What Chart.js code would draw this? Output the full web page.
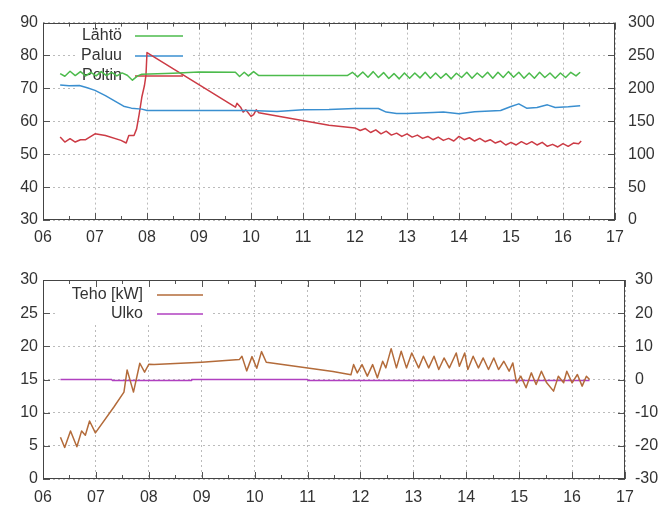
<!DOCTYPE html>
<html>
<head>
<meta charset="utf-8">
<script src="https://cdn.jsdelivr.net/npm/chart.js@4.4.0/dist/chart.umd.min.js"></script>
<style>
body { margin: 0; background: #fff; }
#yla { position: absolute; left: 0; top: 0; }
#ala { position: absolute; left: 0; top: 255px; }
</style>
</head>
<body>
<canvas id="yla" width="659" height="250"></canvas>
<canvas id="ala" width="659" height="250"></canvas>
<script>
// x-akselin tikit (tunnit)
var xTikit = ['06','07','08','09','10','11','12','13','14','15','16','17'];

// Lähtö (vasen akseli, C)
var lahtoAika = [6.33,6.42,6.52,6.62,6.72,6.82,6.92,7.02,7.12,7.22,7.32,7.42,7.52,7.62,7.72,7.82,7.9,8.5,9.0,9.7,9.78,9.87,9.95,10.05,10.15,10.22,11.85,
  11.95,12.05,12.15,12.25,12.35,12.45,12.55,12.65,12.75,12.85,12.95,13.05,13.15,13.25,13.35,13.45,13.55,13.65,13.75,13.85,13.95,
  14.05,14.15,14.25,14.35,14.45,14.55,14.65,14.75,14.85,14.95,15.05,15.15,15.25,15.35,15.45,15.55,15.65,15.75,15.85,15.95,
  16.05,16.15,16.25,16.33];
var lahtoArvo = [74.5,73.7,75.2,73.9,75.1,73.8,74.9,73.8,75.1,73.9,74.9,73.8,74.7,74.0,72.5,73.8,74.3,74.6,75.0,74.9,73.6,74.9,73.8,75.1,73.9,73.9,73.9,
  74.9,73.5,75.0,73.4,75.1,73.3,74.8,73.0,74.5,72.9,74.7,73.1,74.7,73.2,74.9,73.1,74.7,73.1,74.5,72.9,74.6,
  73.3,74.9,73.1,74.7,73.3,74.9,73.1,74.9,73.3,75.1,73.4,74.9,73.1,74.7,73.1,74.9,73.3,74.7,73.1,74.7,
  73.3,74.9,73.8,74.9];

// Paluu (vasen akseli)
var paluuAika = [6.33,6.5,6.7,6.85,7.0,7.2,7.4,7.55,7.7,7.9,8.0,10.0,10.5,11.0,11.5,12.0,12.45,12.6,12.8,13.0,13.5,13.7,14.0,14.3,14.8,15.0,15.15,15.3,15.5,15.7,15.85,16.1,16.33];
var paluuArvo = [71.0,70.8,70.9,70.2,69.4,67.8,66.0,64.6,64.0,63.7,63.3,63.3,63.0,63.5,63.6,63.9,63.9,62.8,62.4,62.4,62.7,62.8,62.3,62.9,63.3,64.5,65.3,64.0,64.2,65.0,64.2,64.4,64.7];

// Poltin (oikea akseli)
var poltinAika = [6.33,6.42,6.52,6.62,6.72,6.82,7.0,7.2,7.5,7.6,7.65,7.75,7.8,7.85,7.9,7.95,7.98,8.0,9.7,9.73,9.8,9.85,9.9,10.0,10.05,10.1,10.15,11.5,
  12.0,12.1,12.2,12.3,12.4,12.5,12.6,12.7,12.8,12.9,13.0,13.1,13.2,13.3,13.4,13.5,13.6,13.7,13.8,13.9,14.0,14.1,14.2,14.3,14.4,14.5,
  14.6,14.7,14.8,14.9,15.0,15.1,15.2,15.3,15.4,15.5,15.6,15.7,15.8,15.9,16.0,16.1,16.2,16.3,16.35];
var poltinArvo = [126,118.5,123.5,118.5,122,122,131,128.5,121,117,128.5,128.5,138.5,161,186.5,204,220,254.5,171.5,177.5,171.5,164,167.5,157.5,160,167.5,163,144,
  140,136,139,133,137,131,135,129,132,127,131,126,129,124,127,122,126,121,124,120,127,122,125,120,124,119,
  122,117,120,114,118,114,119,115,119,114,118,112,115,111,116,112,117,116,120];

// Teho [kW] (vasen akseli, alempi kuva)
var tehoAika = [6.33,6.41,6.52,6.64,6.73,6.8,6.88,6.99,7.34,7.53,7.59,7.71,7.83,7.92,8.0,8.1,9.0,9.71,9.76,9.85,9.95,10.04,10.13,10.22,11.48,11.82,
  11.87,11.94,12.03,12.13,12.23,12.32,12.42,12.48,12.58,12.68,12.77,12.87,12.97,13.10,13.19,13.29,13.39,13.48,13.58,13.68,13.81,13.87,13.97,
  14.03,14.13,14.23,14.32,14.42,14.52,14.61,14.71,14.81,14.88,14.95,15.03,15.13,15.23,15.32,15.42,15.52,15.65,15.74,15.84,15.90,16.00,16.10,16.19,16.27,16.33];
var tehoArvo = [6.3,4.75,7.25,4.85,7.25,6.6,8.75,6.95,10.85,13.1,16.45,13.1,17.45,16.1,17.3,17.25,17.6,18.0,18.5,16.3,18.45,16.7,19.2,17.6,16.2,15.7,
  17.25,16,17.25,15.5,17.25,15.25,17.75,16.75,19.65,16.75,19.25,16.75,19,16.75,18.5,16.75,18.5,16.5,18.25,16.75,19,17,19,
  16.5,18.5,16.75,18.25,16.5,18.25,16.5,17.75,16.25,17.5,14.5,15.5,13.75,16,14.25,16.25,14.5,13.25,15.5,14.5,16.25,14.5,15.75,14,15.5,15];

// Ulko (oikea akseli, C)
var ulkoAika = [6.33,7.3,7.31,8.8,8.81,11.0,11.01,16.33];
var ulkoArvo = [0,0,-0.3,-0.3,0,0,-0.3,-0.3];

function pisteet(aika, arvo) {
  return aika.map(function (t, i) { return { x: t, y: arvo[i] }; });
}

var fontti = "16px 'Liberation Sans', Arial, sans-serif";
Chart.defaults.font.family = "'Liberation Sans', Arial, sans-serif";
Chart.defaults.font.size = 16;
Chart.defaults.color = '#333';

// kehys, tikit ja selite
var kehys = {
  id: 'kehys',
  beforeDatasetsDraw: function (chart, args, o) {
    var ctx = chart.ctx;
    ctx.save();
    ctx.fillStyle = '#fff';
    ctx.fillRect(o.laatikko[0], o.laatikko[1], o.laatikko[2], o.laatikko[3]);
    ctx.font = fontti;
    ctx.textAlign = 'right';
    ctx.textBaseline = 'middle';
    chart.data.datasets.forEach(function (ds, i) {
      var y = o.y0 + i * o.vali;
      ctx.fillStyle = '#333';
      ctx.fillText(ds.label, o.tekstiX, y);
      ctx.strokeStyle = ds.borderColor;
      ctx.lineWidth = 1.5;
      ctx.beginPath();
      ctx.moveTo(o.viiva[0], y);
      ctx.lineTo(o.viiva[1], y);
      ctx.stroke();
    });
    ctx.restore();
  },
  afterDraw: function (chart) {
    var ctx = chart.ctx, a = chart.chartArea, sx = chart.scales.x, sy = chart.scales.y;
    ctx.save();
    ctx.strokeStyle = '#555';
    ctx.lineWidth = 1;
    ctx.beginPath();
    for (var h = 6; h <= 17; h += 0.5) {
      var px = Math.round(sx.getPixelForValue(h)) + 0.5;
      var l = (h % 1 === 0) ? 7 : 4;
      ctx.moveTo(px, a.bottom); ctx.lineTo(px, a.bottom - l);
      ctx.moveTo(px, a.top); ctx.lineTo(px, a.top + l);
    }
    sy.ticks.forEach(function (t) {
      var py = Math.round(sy.getPixelForValue(t.value)) + 0.5;
      ctx.moveTo(a.left, py); ctx.lineTo(a.left + 7, py);
      ctx.moveTo(a.right, py); ctx.lineTo(a.right - 7, py);
    });
    ctx.stroke();
    ctx.strokeStyle = '#444';
    ctx.strokeRect(Math.round(a.left) + 0.5, Math.round(a.top) + 0.5, Math.round(a.width) - 1, Math.round(a.height) - 1);
    ctx.restore();
  }
};

function sarja(nimi, aika, arvo, vari, akseli) {
  return {
    label: nimi, data: pisteet(aika, arvo), borderColor: vari, borderWidth: 1.5,
    borderJoinStyle: 'round', pointRadius: 0, tension: 0, fill: false, yAxisID: akseli
  };
}

function asetukset(vasen, oikea, leveys, xKorkeus, xPad, oPad, pTop, selite) {
  return {
    responsive: false,
    animation: false,
    devicePixelRatio: 1,
    layout: { padding: { top: pTop, left: 0, right: 0, bottom: 0 } },
    plugins: { legend: { display: false }, tooltip: { enabled: false }, kehys: selite },
    scales: {
      x: {
        type: 'linear', min: 6, max: 17,
        ticks: { stepSize: 1, padding: xPad, callback: function (v) { return xTikit[v - 6]; } },
        grid: { color: '#bbb', drawTicks: false },
        border: { display: false, dash: [2, 3] },
        afterFit: function (s) { s.height = xKorkeus; }
      },
      y: {
        position: 'left', min: vasen[0], max: vasen[1],
        ticks: { stepSize: vasen[2], padding: 5 },
        grid: { color: '#bbb', drawTicks: false },
        border: { display: false, dash: [2, 3] },
        afterFit: function (s) { s.width = 43; }
      },
      y2: {
        position: 'right', min: oikea[0], max: oikea[1],
        ticks: { stepSize: oikea[2], padding: oPad },
        grid: { display: false, drawTicks: false },
        border: { display: false },
        afterFit: function (s) { s.width = leveys; }
      }
    }
  };
}

new Chart(document.getElementById('yla'), {
  type: 'line',
  data: {
    datasets: [
      sarja('Lähtö', lahtoAika, lahtoArvo, '#4cbb4c', 'y'),
      sarja('Paluu', paluuAika, paluuArvo, '#3a8fd0', 'y'),
      sarja('Poltin', poltinAika, poltinArvo, '#cc3b45', 'y2')
    ]
  },
  options: asetukset([30, 90, 10], [0, 300, 50], 44, 30, 8, 13, 22,
    { laatikko: [78, 23, 112, 67], y0: 36, vali: 20, tekstiX: 122, viiva: [135, 183] }),
  plugins: [kehys]
});

new Chart(document.getElementById('ala'), {
  type: 'line',
  data: {
    datasets: [
      sarja('Teho [kW]', tehoAika, tehoArvo, '#b36b3a', 'y'),
      sarja('Ulko', ulkoAika, ulkoArvo, '#b040c0', 'y2')
    ]
  },
  options: asetukset([0, 30, 5], [-30, 30, 10], 34, 26, 9, 10, 25,
    { laatikko: [55, 26, 158, 42], y0: 40, vali: 19, tekstiX: 143, viiva: [157, 203] }),
  plugins: [kehys]
});
</script>
</body>
</html>
